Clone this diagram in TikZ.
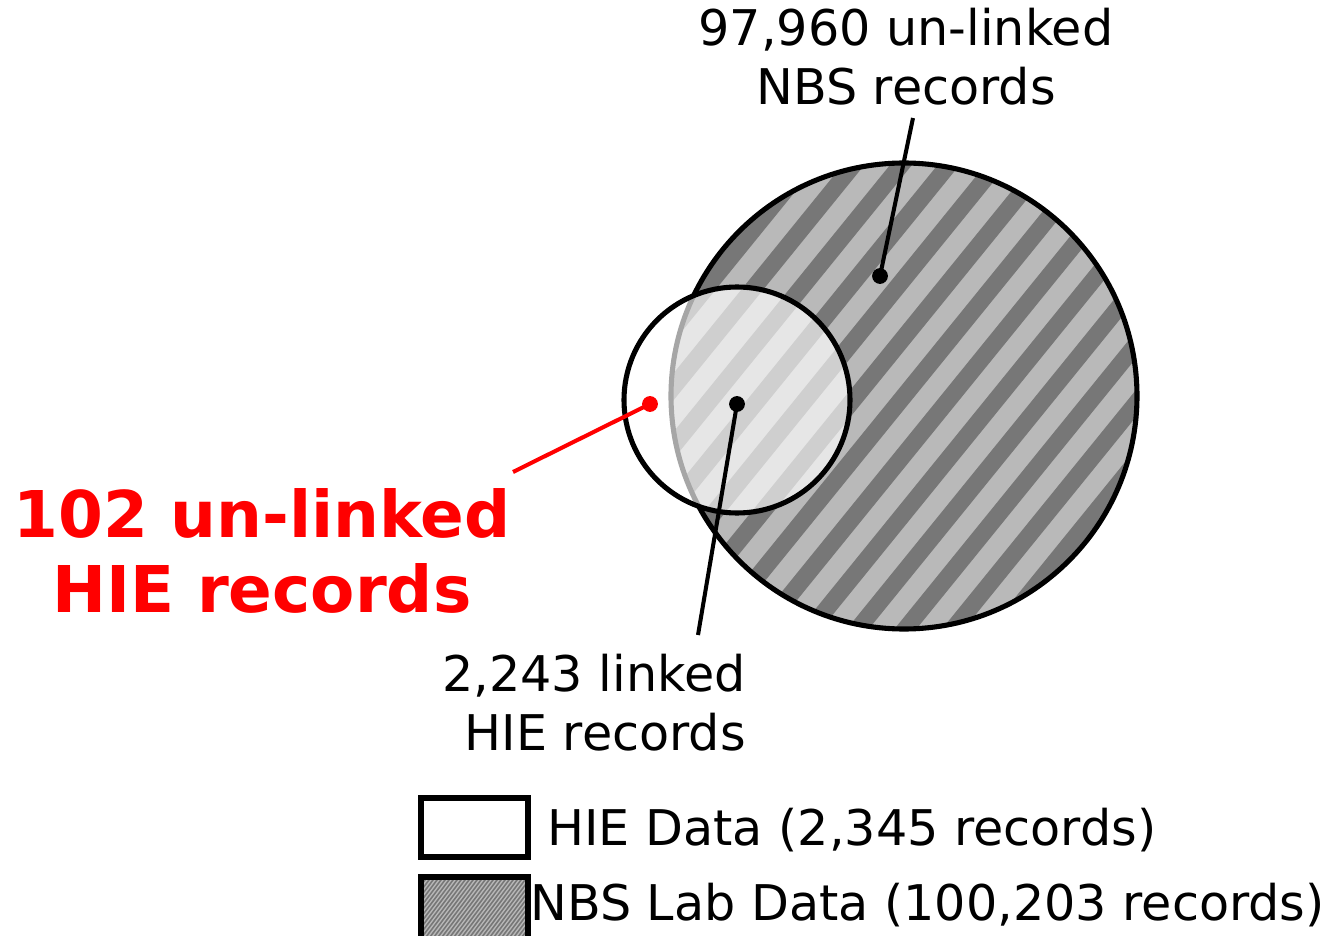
\documentclass[tikz,border=0pt]{standalone}
\usepackage{fontspec}
\setmainfont{DejaVu Sans}
\usetikzlibrary{calc}
\definecolor{stripelight}{HTML}{B9B9B9}
\definecolor{stripedark}{HTML}{777777}
\definecolor{hiered}{HTML}{FF0000}
\tikzset{
  labeltext/.style={font=\fontsize{28}{33.6}\selectfont, inner sep=0pt},
  redtext/.style={font=\fontsize{36.7}{43}\selectfont\bfseries, text=hiered, inner sep=0pt, align=center},
  dotmark/.style={circle, fill=#1, inner sep=0pt, minimum size=9pt},
  pointer/.style={line width=2.3pt, draw=#1},
  rim/.style={line width=2.9pt},
  darkstripe/.style={line width=9.7pt, draw=stripedark},
  finestripe/.style={line width=0.9pt, draw=stripedark}
}

\begin{document}
\begin{tikzpicture}[x=0.02cm, y=-0.02cm] % 1 unit = 1 pixel, y nach unten
\useasboundingbox (0,0) rectangle (1330,936);

%GROSSER KREIS (NBS)
\begin{scope}
\clip (904,396) circle (233);
\fill[stripelight] (904,396) circle (233);
\foreach \k in {-9,...,9}
  \draw[darkstripe] ({904+28.7*\k-189},{396+23.3*\k+233}) -- ({904+28.7*\k+189},{396+23.3*\k-233});
\end{scope}
\draw[rim] (904,396) circle (233);

%KLEINER KREIS (HIE)
\draw[rim, fill=white, fill opacity=0.65] (737,400) circle (113);

%PUNKTE
\node[dotmark=black] (nbsdot) at (880,276) {};
\node[dotmark=black] (linkdot) at (737,404) {};
\node[dotmark=hiered] (hiedot) at (650,404) {};

%BESCHRIFTUNGEN
\node[labeltext, align=center] (nbslabel) at (906,57) {97,960 un-linked\\NBS records};
\node[labeltext, align=right, anchor=east] (linklabel) at (746,703) {2,243 linked\\HIE records};
\node[redtext] (hielabel) at (262,551) {102 un-linked\\HIE records};

\coordinate (nbsend) at (913,118);
\coordinate (linkend) at (698,635);
\coordinate (hieend) at (513,472);
\draw[pointer=black] (nbsend) -- (nbsdot.center);
\draw[pointer=black] (linkend) -- (linkdot.center);
\draw[pointer=hiered] (hieend) -- (hiedot.center);

%LEGENDE
\draw[rim, line width=3.3pt, fill=white] (421,798) rectangle (528,857);
\node[labeltext, anchor=west] (hiekey) at (547,830) {HIE Data (2,345 records)};

\begin{scope}
\clip (421,877) rectangle (528,945);
\fill[stripelight] (421,877) rectangle (528,945);
\foreach \k in {0,...,46}
  \draw[finestripe] ({360+4*\k},945) -- ({360+4*\k+55},872);
\end{scope}
\draw[rim, line width=3.3pt] (421,945) -- (421,877) -- (528,877) -- (528,945);
\node[labeltext, anchor=east] (nbskey) at (1325,905) {NBS Lab Data (100,203 records)};

\end{tikzpicture}
\end{document}
